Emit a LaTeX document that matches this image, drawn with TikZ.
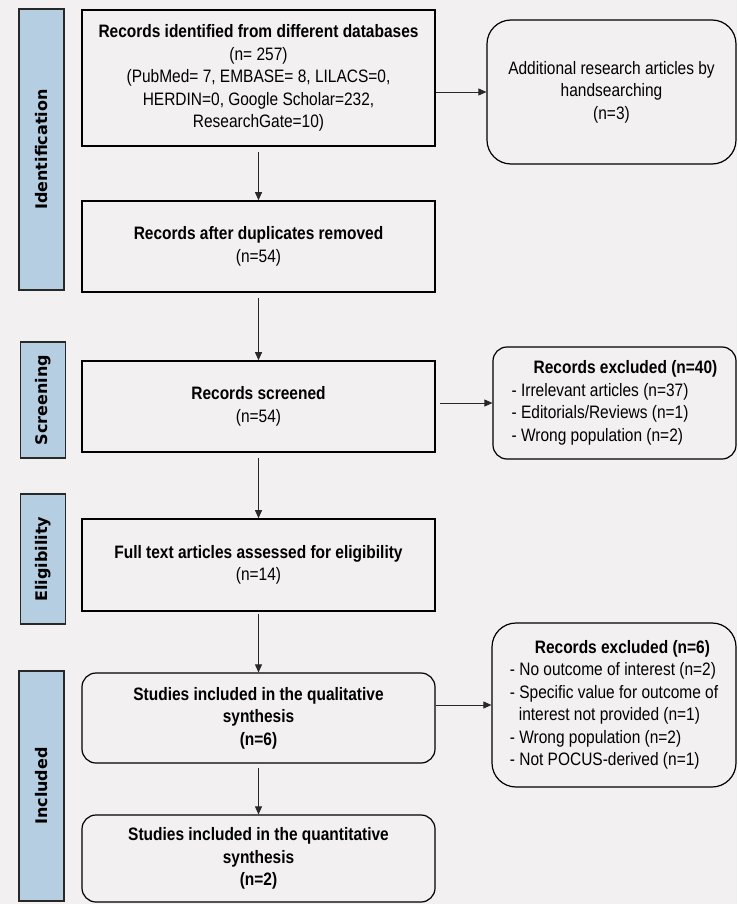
\documentclass[tikz,border=0pt]{standalone}
\usepackage{fontspec}
\setmainfont{Liberation Sans}[FakeStretch=0.86]
\newfontfamily\phasefont{DejaVu Sans}
\usetikzlibrary{arrows.meta}
\definecolor{bgcol}{RGB}{242,240,240}
\definecolor{phasecol}{RGB}{182,206,226}
\definecolor{linecol}{RGB}{40,40,40}

\begin{document}
\begin{tikzpicture}[
    x=1pt, y=-1pt,
    every node/.style={font=\fontsize{18}{22.5}\selectfont, align=center},
    block/.style={rectangle, draw=black, line width=1.6pt, minimum width=353pt, inner sep=0pt},
    rblock/.style={block, rounded corners=14pt, line width=1.2pt},
    sidebox/.style={rectangle, draw=black, line width=1.2pt, rounded corners=16pt, minimum width=244pt, inner sep=0pt},
    phase/.style={rectangle, draw=linecol, line width=1.2pt, fill=phasecol, minimum height=45pt, inner sep=0pt, rotate=90, font=\phasefont\bfseries\fontsize{16}{18}\selectfont},
    arrow/.style={-{Triangle[length=8pt,width=7pt]}, line width=0.8pt, draw=linecol}
]
\fill[bgcol] (0,0) rectangle (737,904);
\useasboundingbox (0,0) rectangle (737,904);

% Phase labels
\node[phase, minimum width=281pt] (ident) at (41.5,149.5) {Identification};
\node[phase, minimum width=116pt] (screen) at (43,400) {Screening};
\node[phase, minimum width=130pt] (elig) at (43,559) {Eligibility};
\node[phase, minimum width=230pt] (incl) at (41.5,786) {Included};

% Main column
\node[block, minimum height=136pt] (found) at (258.5,78) {\textbf{Records identified from different databases}\\(n= 257)\\(PubMed= 7, EMBASE= 8, LILACS=0,\\HERDIN=0, Google Scholar=232,\\ResearchGate=10)};
\node[block, minimum height=91pt] (unique) at (258.5,246.5) {\textbf{Records after duplicates removed}\\(n=54)};
\node[block, minimum height=91pt] (screened) at (258.5,406.5) {\textbf{Records screened}\\(n=54)};
\node[block, minimum height=92pt] (fulltext) at (258.5,565) {\textbf{Full text articles assessed for eligibility}\\(n=14)};
\node[rblock, minimum height=90pt] (qual) at (258.5,718) {\textbf{Studies included in the qualitative}\\\textbf{synthesis}\\\textbf{(n=6)}};
\node[rblock, minimum height=87pt] (quant) at (258.5,858.5) {\textbf{Studies included in the quantitative}\\\textbf{synthesis}\\\textbf{(n=2)}};

% Side boxes
\node[sidebox, minimum width=249pt, minimum height=144pt, rounded corners=24pt] (extra) at (611.5,92) {Additional research articles by\\handsearching\\(n=3)};
\node[sidebox, minimum width=243pt, minimum height=112pt, rounded corners=14pt, align=left] (excl40) at (614.5,403) {\hspace*{22pt}\textbf{Records excluded (n=40)}\\- Irrelevant articles (n=37)\\- Editorials/Reviews (n=1)\\- Wrong population (n=2)};
\node[sidebox, minimum height=164pt, rounded corners=24pt, align=left] (excl6) at (614,705) {\hspace*{25pt}\textbf{Records excluded (n=6)}\\- No outcome of interest (n=2)\\- Specific value for outcome of\\\hspace*{9pt}interest not provided (n=1)\\- Wrong population (n=2)\\- Not POCUS-derived (n=1)};

% Arrows
\draw[arrow, shorten <=5pt] (found) -- (unique);
\draw[arrow, shorten <=5pt] (unique) -- (screened);
\draw[arrow, shorten <=5pt] (screened) -- (fulltext);
\draw[arrow, shorten <=2pt] (fulltext) -- (qual);
\draw[arrow, shorten <=4pt] (qual) -- (quant);
\draw[arrow] (found.east |- extra.west) -- (extra.west);
\draw[arrow, shorten <=4pt] (screened.east |- excl40.west) -- (excl40.west);
\draw[arrow] (qual.east |- excl6.west) -- (excl6.west);

\end{tikzpicture}
\end{document}
